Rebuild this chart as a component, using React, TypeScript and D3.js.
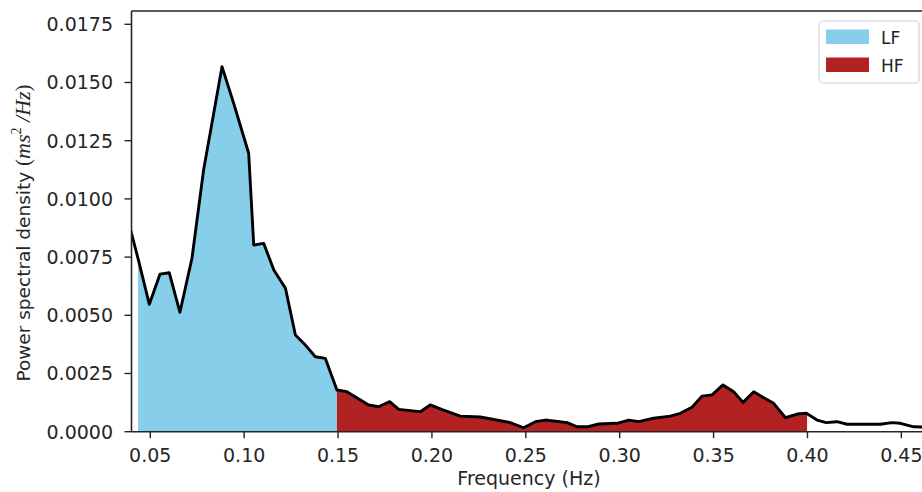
import React from "react";
import * as d3 from "d3";

// frequency (Hz) and power spectral density (ms^2/Hz)
const freqs = [
  0.0378, 0.0437, 0.0495, 0.0552, 0.0601, 0.0658, 0.0722, 0.0784, 0.0882, 0.0944,
  0.1024, 0.1051, 0.1104, 0.1158, 0.122, 0.1273, 0.1326, 0.1379, 0.1432, 0.1494,
  0.1547, 0.1663, 0.1716, 0.1775, 0.1823, 0.1938, 0.1991, 0.2062, 0.2151, 0.2258,
  0.2417, 0.2488, 0.2551, 0.2604, 0.272, 0.2773, 0.2826, 0.2888, 0.2986, 0.3048,
  0.3101, 0.3181, 0.327, 0.3323, 0.3385, 0.3439, 0.3492, 0.355, 0.3607, 0.3657,
  0.3714, 0.3767, 0.382, 0.3883, 0.3945, 0.3994, 0.4051, 0.41, 0.4157, 0.4211,
  0.4388, 0.445, 0.4495, 0.4566, 0.461, 0.4669,
];
const psd = [
  0.0092, 0.00737, 0.00547, 0.00677, 0.00683, 0.00513, 0.00745, 0.01124, 0.01568, 0.01411,
  0.01196, 0.00802, 0.00809, 0.00695, 0.00616, 0.00415, 0.00372, 0.00322, 0.00315, 0.00179,
  0.00172, 0.00115, 0.00107, 0.00129, 0.00096, 0.00086, 0.00115, 0.00093, 0.00067, 0.00063,
  0.00039, 0.00017, 0.00043, 0.0005, 0.00039, 0.00021, 0.00021, 0.00033, 0.00036, 0.0005,
  0.00043, 0.00058, 0.00067, 0.00079, 0.00105, 0.00153, 0.00158, 0.00201, 0.00172, 0.00126,
  0.00172, 0.00146, 0.00122, 0.0006, 0.00076, 0.00079, 0.0005, 0.00039, 0.00043, 0.00032,
  0.00032, 0.00039, 0.00036, 0.00021, 0.0002, 0.00018,
];

const bands = ["LF", "HF"];
const bandLimits = [
  [0.0435, 0.1494],
  [0.1494, 0.3998],
];
const bandColors = ["#87CEEB", "#B22222"];

const xTicks = [0.05, 0.1, 0.15, 0.2, 0.25, 0.3, 0.35, 0.4, 0.45];
const yTicks = [0, 0.0025, 0.005, 0.0075, 0.01, 0.0125, 0.015, 0.0175];

const W = 922, H = 492;
const left = 131.5, top = 11, bottom = 431.7;

export default function App() {
  const x = d3.scaleLinear().domain([0.04, 0.461]).range([left, 922]);
  const y = d3.scaleLinear().domain([0, 0.018071]).range([bottom, top]);

  const pts = freqs.map((f, i) => [f, psd[i]] as [number, number]);
  const line = d3.line<[number, number]>().x(d => x(d[0])).y(d => y(d[1]));
  const area = d3.area<[number, number]>().x(d => x(d[0])).y0(y(0)).y1(d => y(d[1]));

  const font = "'DejaVu Sans', sans-serif";
  const serif = "'Liberation Serif', serif";
  const ink = "#262626";

  return (
    <div style={{ position: "fixed", left: 0, top: 0 }}>
      <svg width={W} height={H} style={{ display: "block", background: "#fff" }}>
        <defs>
          <clipPath id="plot">
            <rect x={left} y={top} width={W - left} height={bottom - top} />
          </clipPath>
          {bandLimits.map((b, i) => (
            <clipPath id={"band" + i} key={i}>
              <rect x={x(b[0])} y={top} width={x(b[1]) - x(b[0])} height={bottom - top} />
            </clipPath>
          ))}
        </defs>

        {bandLimits.map((b, i) => (
          <path key={i} d={area(pts) || ""} fill={bandColors[i]} clipPath={`url(#band${i})`} />
        ))}
        <g clipPath="url(#plot)">
          <path d={line(pts) || ""} fill="none" stroke="#000" strokeWidth={2.9} strokeLinejoin="round" />
        </g>

        {/* spines */}
        <line x1={left} x2={left} y1={top} y2={bottom} stroke={ink} strokeWidth={1.6} />
        <line x1={left} x2={W} y1={bottom} y2={bottom} stroke={ink} strokeWidth={1.6} />
        <line x1={left} x2={W} y1={top} y2={top} stroke={ink} strokeWidth={1.6} />

        {/* y ticks */}
        {yTicks.map(t => (
          <g key={t} transform={`translate(0,${y(t)})`}>
            <line x1={left - 7} x2={left} stroke={ink} strokeWidth={1.4} />
            <text x={113} dy="0.36em" textAnchor="end" fontFamily={font} fontSize={19} fill={ink}>
              {d3.format(".4f")(t)}
            </text>
          </g>
        ))}

        {/* x ticks */}
        {xTicks.map(t => (
          <g key={t} transform={`translate(${x(t)},0)`}>
            <line y1={bottom} y2={bottom + 6.5} stroke={ink} strokeWidth={1.4} />
            <text y={462} textAnchor="middle" fontFamily={font} fontSize={19} fill={ink}>
              {d3.format(".2f")(t)}
            </text>
          </g>
        ))}

        <text x={529} y={485} textAnchor="middle" fontFamily={font} fontSize={19} fill={ink}>
          Frequency (Hz)
        </text>

        <text transform="translate(30,233) rotate(-90)" textAnchor="middle" fontFamily={font} fontSize={18.5} fill={ink}>
          Power spectral density{" "}
          <tspan fontFamily={serif} fontSize={21}>(</tspan>
          <tspan fontFamily={serif} fontStyle="italic" fontSize={22}>ms</tspan>
          <tspan fontFamily={serif} fontSize={14} dy="-9">2</tspan>
          <tspan fontFamily={serif} fontStyle="italic" fontSize={22} dy="9"> /Hz</tspan>
          <tspan fontFamily={serif} fontSize={21}>)</tspan>
        </text>

        {/* legend */}
        <rect x={819} y={21} width={100} height={62} rx={4} fill="#fff" stroke="#d0d0d0" strokeWidth={1.2} />
        {bands.map((b, i) => (
          <g key={b} transform={`translate(0,${i * 28})`}>
            <rect x={826} y={29.5} width={43} height={14.5} fill={bandColors[i]} />
            <text x={881} y={44} fontFamily={font} fontSize={17} fill="#222">
              {b}
            </text>
          </g>
        ))}
      </svg>
    </div>
  );
}
